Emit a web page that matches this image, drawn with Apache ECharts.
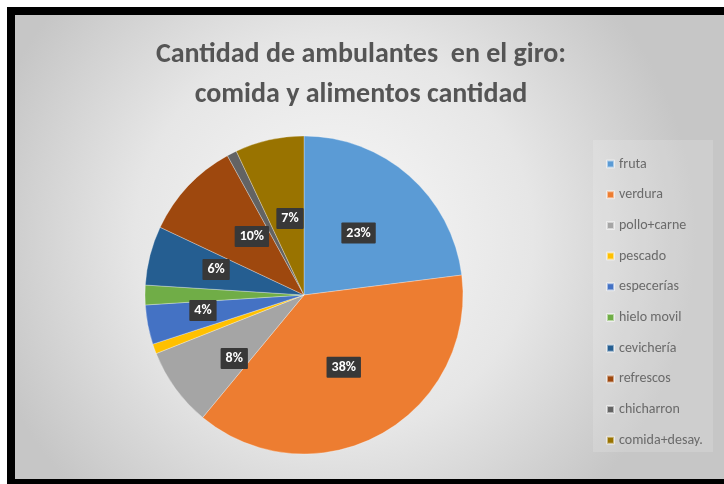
<!DOCTYPE html>
<html>
<head>
<meta charset="utf-8">
<script src="https://cdn.jsdelivr.net/npm/echarts@6/dist/echarts.min.js"></script>
<style>
  html, body { margin: 0; padding: 0; background: #ffffff; }
  #chart { width: 724px; height: 484px; }
</style>
</head>
<body>
<div id="chart"></div>
<script>
// Street vendors in the food business, share by type
const categories = ['fruta', 'verdura', 'pollo+carne', 'pescado', 'especerías', 'hielo movil', 'cevichería', 'refrescos', 'chicharron', 'comida+desay.'];
const values = [23, 38, 8, 1, 4, 2, 6, 10, 1, 7];
const showLabel = [true, true, true, false, true, false, true, true, false, true];
const colors = ['#5b9bd5', '#ed7d31', '#a5a5a5', '#ffc000', '#4472c4', '#70ad47', '#255e91', '#9e480e', '#636363', '#997300'];
const titleText = 'Cantidad de ambulantes  en el giro:\ncomida y alimentos cantidad';

// small nudges so the percentage boxes sit where a best-fit layout would put them
const labelNudge = {
  2: { dx: -3, dy: 15 },
  4: { dx: -20, dy: 0 },
  6: { dx: -8, dy: -5 },
  7: { dx: 8, dy: -2 },
  9: { dx: 4, dy: 4 }
};

const font = 'Carlito, "Open Sans", sans-serif';
const chart = echarts.init(document.getElementById('chart'), null, { renderer: 'canvas' });

chart.setOption({
  backgroundColor: '#ffffff',
  animation: false,
  graphic: {
    z: -10,
    elements: [
      { type: 'rect', shape: { x: 7, y: 7, width: 717, height: 477 }, style: { fill: '#000000' }, silent: true },
      {
        type: 'rect', shape: { x: 15, y: 15, width: 709, height: 464 }, silent: true,
        style: {
          fill: new echarts.graphic.RadialGradient(0.45, 0.48, 0.78, [
            { offset: 0, color: '#f8f8f8' },
            { offset: 0.55, color: '#e6e6e6' },
            { offset: 1, color: '#c6c6c6' }
          ])
        }
      },
      { type: 'rect', shape: { x: 593, y: 140, width: 120, height: 312 }, style: { fill: 'rgba(255,255,255,0.15)' }, silent: true }
    ]
  },
  title: {
    text: titleText,
    left: 356,
    top: 30,
    textAlign: 'center',
    textStyle: {
      fontFamily: font,
      fontSize: 28,
      fontWeight: 'bold',
      lineHeight: 40,
      color: '#555555'
    }
  },
  legend: {
    orient: 'vertical',
    left: 601,
    top: 151,
    icon: 'rect',
    itemWidth: 7,
    itemHeight: 7,
    itemGap: 14.7,
    data: categories,
    textStyle: {
      fontFamily: font,
      fontSize: 14,
      lineHeight: 16,
      color: '#6a6a6a',
      padding: [0, 0, 0, 0]
    }
  },
  color: colors,
  series: [{
    type: 'pie',
    center: [304, 295],
    radius: 159,
    startAngle: 90,
    clockwise: true,
    avoidLabelOverlap: false,
    itemStyle: { borderColor: 'rgba(255,255,255,0.5)', borderWidth: 0.6 },
    label: {
      position: 'inside',
      formatter: '{d}%',
      color: '#ffffff',
      fontFamily: font,
      fontWeight: 'bold',
      fontSize: 14,
      backgroundColor: '#383838',
      padding: [4, 5, 3, 5],
      borderRadius: 1
    },
    labelLayout: function (params) {
      return labelNudge[params.dataIndex] || {};
    },
    labelLine: { show: false },
    emphasis: { disabled: true },
    data: categories.map((name, i) => ({
      name: name,
      value: values[i],
      label: { show: showLabel[i] }
    }))
  }]
});
</script>
</body>
</html>
